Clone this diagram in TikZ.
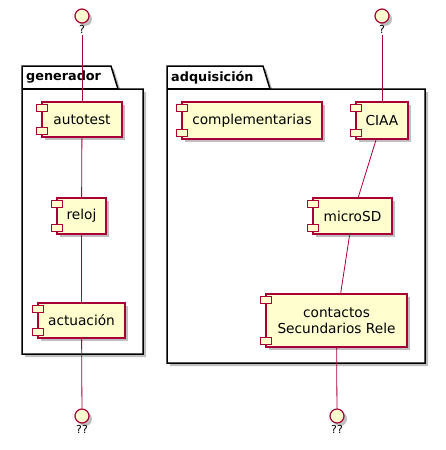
\documentclass[tikz,border=0pt]{standalone}
\usepackage{fontspec}
\setmainfont{DejaVu Sans}
\usetikzlibrary{positioning,shadows}
\tikzstyle{diagram} = [x = 1pt, y = -1pt]
\definecolor{borderColor}{RGB}{168,0,54}
\definecolor{boxColor}{RGB}{254,254,206}
\tikzstyle{shadowStyle} = [drop shadow={shadow xshift=3pt, shadow yshift=-3pt, fill=black, opacity=0.25}]
\tikzstyle{componentStyle} = [draw=borderColor, fill=boxColor, line width=1.1pt, inner sep=0pt, align=center, font=\fontsize{13.7}{16}\selectfont, shadowStyle]
\tikzstyle{portStyle} = [draw=borderColor, fill=boxColor, line width=1.1pt]
\tikzstyle{interfaceStyle} = [circle, draw=borderColor, fill=boxColor, line width=1.2pt, minimum size=14pt, inner sep=0pt, shadowStyle]
\tikzstyle{interfaceText} = [font=\fontsize{11}{13}\selectfont, inner sep=1pt]
\tikzstyle{packageStyle} = [draw=black, fill=white, line width=1.5pt, shadowStyle]
\tikzstyle{packageText} = [font=\bfseries\fontsize{12.8}{15}\selectfont, anchor=west, inner sep=0pt]
\tikzstyle{connector} = [draw=borderColor, line width=0.8pt]
\newcommand{\package}[7]{
  \filldraw [packageStyle] (#2, #3) -- (#4, #3) -- (#4 + 7, #3 + 23) -- (#5, #3 + 23) -- (#5, #6) -- (#2, #6) -- cycle;
  \draw [line width=1.5pt] (#2, #3 + 23) -- (#4 + 7, #3 + 23);
  \node [packageText] (#1) at (#2 + 4, #3 + 11.5) {#7};
}
\newcommand{\component}[6]{
  \node [componentStyle, minimum width = {(#4 - #2) * 1pt}, minimum height = {(#5 - #3) * 1pt}] (#1) at ({(#2 + #4) / 2}, {(#3 + #5) / 2}) {#6};
  \filldraw [portStyle] ([xshift = -5pt, yshift = -3pt] #1.north west) rectangle + (11, 7);
  \filldraw [portStyle] ([xshift = -5pt, yshift = 3pt] #1.south west) rectangle + (11, -7);
}

\begin{document}
\begin{tikzpicture}[diagram]
  \useasboundingbox (0, 0) rectangle (445, 450);
  \package{generador}{22}{66}{111}{143}{354}{generador}
  \package{adquisicion}{167}{66}{263}{425}{363}{adquisición}

  \component{autotest}{42}{102}{122}{137}{autotest}
  \component{reloj}{57}{198}{106}{234}{reloj}
  \component{actuacion}{38}{303}{125}{338}{actuación}
  \component{complementarias}{182}{102}{322}{139}{complementarias}
  \component{ciaa}{356}{102}{408}{139}{CIAA}
  \component{microsd}{313}{198}{392}{234}{microSD}
  \component{contactos}{266}{294}{407}{347}{contactos\\Secundarios Rele}

  \node [interfaceStyle] (topLeft) at (82, 16) {};
  \node [interfaceText, below = 1pt of topLeft] (topLeftText) {?};
  \node [interfaceStyle] (topRight) at (382, 16) {};
  \node [interfaceText, below = 1pt of topRight] (topRightText) {?};
  \node [interfaceStyle] (bottomLeft) at (82, 416) {};
  \node [interfaceText, below = 1pt of bottomLeft] (bottomLeftText) {??};
  \node [interfaceStyle] (bottomRight) at (337, 416) {};
  \node [interfaceText, below = 1pt of bottomRight] (bottomRightText) {??};

  \draw [connector] (topLeftText) -- (autotest);
  \draw [connector] (autotest) -- (reloj);
  \draw [connector] (reloj) -- (actuacion);
  \draw [connector] (actuacion) -- (bottomLeft);
  \draw [connector] (topRightText) -- (ciaa);
  \draw [connector] (ciaa) -- (microsd);
  \draw [connector] (microsd) -- (contactos);
  \draw [connector] (contactos) -- (bottomRight);
\end{tikzpicture}
\end{document}
